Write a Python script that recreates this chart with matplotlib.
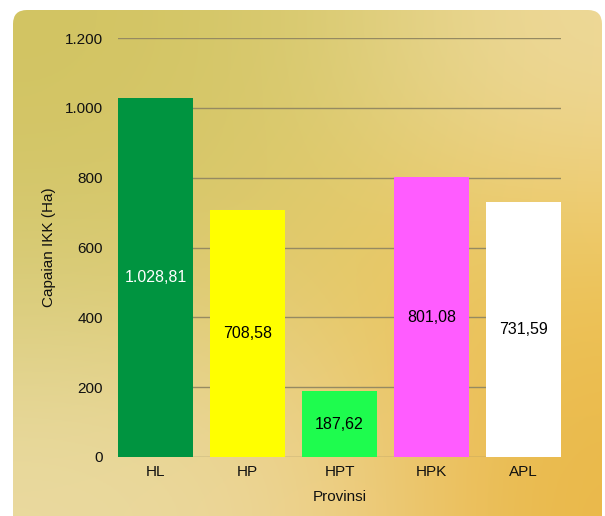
import numpy as np
import matplotlib.pyplot as plt
from matplotlib.patches import FancyBboxPatch
from matplotlib.colors import to_rgb

plt.rcParams['font.family'] = ['Liberation Sans', 'DejaVu Sans']

categories = ['HL', 'HP', 'HPT', 'HPK', 'APL']
values = [1028.81, 708.58, 187.62, 801.08, 731.59]
labels = ['1.028,81', '708,58', '187,62', '801,08', '731,59']
bar_colors = ['#009440', '#ffff00', '#1efc4e', '#ff5cff', '#ffffff']
label_colors = ['white', 'black', 'black', 'black', 'black']
y_ticks = [0, 200, 400, 600, 800, 1000, 1200]
y_ticklabels = ['0', '200', '400', '600', '800', '1.000', '1.200']

fig = plt.figure(figsize=(6.05, 5.16), dpi=100)
fig.patch.set_facecolor('white')

# panel background, smooth gradient standing in for the texture
bg = fig.add_axes([0, 0, 1, 1])
bg.set_xlim(0, 605)
bg.set_ylim(516, 0)
bg.axis('off')
grid_cols = [['#d2c462', '#d8ca70', '#eed99a'],
             ['#d6ca74', '#e4c862', '#eec458'],
             ['#eadaa0', '#eed494', '#eab848']]
img = np.array([[to_rgb(c) for c in row] for row in grid_cols])
im = bg.imshow(img, extent=(13, 615, 526, 10), interpolation='bicubic', aspect='auto')
panel = FancyBboxPatch((13, 10), 589, 530, boxstyle='round,pad=0,rounding_size=14',
                       transform=bg.transData, facecolor='none', edgecolor='none')
bg.add_patch(panel)
im.set_clip_path(panel)

ax = fig.add_axes([118 / 605, 59 / 516, 443 / 605, 419 / 516])
ax.patch.set_alpha(0)
x = np.arange(len(categories))
w = 75 / 92
ax.bar(x, values, width=w, color=bar_colors, zorder=3)
for xi, v, lab, lc in zip(x, values, labels, label_colors):
    ax.text(xi, v / 2, lab, ha='center', va='center', fontsize=11.5, color=lc, zorder=4)

ax.set_xlim(-w / 2, len(categories) - 1 + w / 2)
ax.set_ylim(0, 1200)
ax.set_yticks(y_ticks)
ax.set_yticklabels(y_ticklabels)
ax.set_xticks(x)
ax.set_xticklabels(categories)
ax.tick_params(axis='both', length=0, labelsize=11, colors='#111111')
ax.tick_params(axis='y', pad=11)
ax.tick_params(axis='x', pad=6)
ax.yaxis.grid(True, color='#958a62', lw=1, zorder=1)
for s in ax.spines.values():
    s.set_visible(False)

ax.set_ylabel('Capaian IKK (Ha)', fontsize=11, color='#111111')
ax.yaxis.set_label_coords(-62 / 443, 0.5)
ax.set_xlabel('Provinsi', fontsize=11, color='#111111')
ax.xaxis.set_label_coords(0.5, -33 / 419)

fig.savefig('out.png', dpi=100)
